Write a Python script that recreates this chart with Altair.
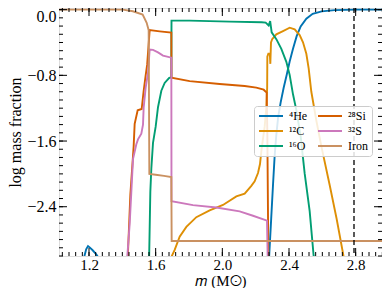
import altair as alt
import pandas as pd

# ---- data ----
he1_m = [1.168, 1.183, 1.194, 1.204, 1.222, 1.240, 1.255]
he1_v = [-3.037, -2.918, -2.879, -2.895, -2.93, -2.97, -3.013]

he_m = [2.278, 2.281, 2.293, 2.304, 2.314, 2.323, 2.335, 2.350, 2.368, 2.386, 2.404, 2.424, 2.446, 2.470, 2.504, 2.542, 2.596, 2.674, 2.804, 3.0]
he_v = [-3.15, -3.0, -2.551, -2.136, -1.78, -1.544, -1.307, -1.129, -0.951, -0.797, -0.632, -0.477, -0.323, -0.205, -0.11, -0.051, -0.021, -0.006, 0.0, 0.0]

c_m = [1.695, 1.697, 1.714, 1.744, 1.784, 1.844, 1.924, 2.004, 2.084, 2.134, 2.174, 2.194, 2.214, 2.226, 2.234, 2.244, 2.254, 2.264, 2.269, 2.270, 2.276, 2.285, 2.288, 2.292, 2.299, 2.324, 2.364, 2.404, 2.434, 2.464, 2.484, 2.504, 2.518, 2.534, 2.564, 2.594, 2.644, 2.686, 2.724, 2.735]
c_v = [-3.2, -3.0, -2.926, -2.764, -2.646, -2.527, -2.444, -2.379, -2.275, -2.24, -2.145, -2.09, -1.99, -1.88, -1.725, -1.57, -1.425, -1.188, -0.951, -0.572, -0.537, -0.537, -0.66, -0.4, -0.36, -0.30, -0.261, -0.22, -0.24, -0.31, -0.398, -0.537, -0.714, -1.0, -1.35, -1.662, -2.136, -2.55, -2.966, -3.1]

o_m = [1.560, 1.561, 1.568, 1.574, 1.584, 1.600, 1.614, 1.634, 1.654, 1.680, 1.694, 1.695, 1.804, 2.044, 2.236, 2.260, 2.278, 2.287, 2.296, 2.324, 2.354, 2.384, 2.404, 2.424, 2.444, 2.470, 2.494, 2.524, 2.548, 2.56]
o_v = [-3.2, -3.0, -2.216, -1.935, -1.623, -1.425, -1.188, -0.987, -0.892, -0.833, -0.821, -0.134, -0.134, -0.146, -0.154, -0.158, -0.193, -0.14, -0.276, -0.359, -0.477, -0.635, -0.794, -1.031, -1.224, -1.544, -1.995, -2.453, -3.0, -3.15]

si_m = [1.428, 1.433, 1.448, 1.462, 1.468, 1.474, 1.492, 1.516, 1.528, 1.540, 1.549, 1.564, 1.624, 1.694, 1.695, 1.804, 1.984, 2.134, 2.204, 2.248, 2.266, 2.270, 2.276, 2.278]
si_v = [-3.2, -3.0, -2.255, -1.84, -1.66, -1.39, -1.225, -1.21, -0.99, -0.80, -0.67, -0.25, -0.265, -0.28, -0.83, -0.87, -0.905, -0.93, -0.95, -0.975, -1.01, -1.5, -3.0, -3.2]

s_m = [1.426, 1.430, 1.444, 1.456, 1.464, 1.484, 1.494, 1.514, 1.524, 1.528, 1.540, 1.554, 1.564, 1.584, 1.614, 1.644, 1.694, 1.695, 1.824, 1.964, 2.104, 2.184, 2.268, 2.272, 2.273]
s_v = [-3.2, -3.0, -2.61, -2.14, -1.82, -1.64, -1.58, -1.51, -1.40, -1.19, -0.95, -0.77, -0.486, -0.49, -0.52, -0.56, -0.585, -2.334, -2.38, -2.41, -2.456, -2.51, -2.57, -3.0, -3.2]

fe_m = [1.02, 1.403, 1.463, 1.522, 1.546, 1.558, 1.562, 1.600, 1.650, 1.694, 1.696, 3.0]
fe_v = [0.0, 0.0, -0.02, -0.06, -0.16, -0.25, -2.0, -2.01, -2.025, -2.04, -2.818, -2.818]

species = ["⁴He", "¹²C", "¹⁶O", "²⁸Si", "³²S", "Iron"]
colors = ["#0173b2", "#de8f05", "#029e73", "#d55e00", "#cc78bc", "#ca9161"]

x_major = [1.2, 1.6, 2.0, 2.4, 2.8]
x_minor = [round(1.04 + 0.04 * i, 2) for i in range(49)]
y_major = [-2.4, -1.6, -0.8, 0.0]
y_minor = [round(-3.0 + 0.1 * i, 1) for i in range(31)]
marker_m = [2.79]

X_DOM = [1.02, 2.958]
Y_DOM = [-3.0, 0.02]
W, H = 323, 248
FONT = "Liberation Serif"

rows = []
segs = [("⁴He", "he1", he1_m, he1_v), ("⁴He", "he2", he_m, he_v),
        ("¹²C", "c", c_m, c_v), ("¹⁶O", "o", o_m, o_v),
        ("²⁸Si", "si", si_m, si_v), ("³²S", "s", s_m, s_v),
        ("Iron", "fe", fe_m, fe_v)]
k = 0
for sp, sg, ms, vs in segs:
    for a, b in zip(ms, vs):
        rows.append({"species": sp, "seg": sg, "m": a, "v": b, "i": k})
        k += 1
df = pd.DataFrame(rows)

xs = alt.Scale(domain=X_DOM, nice=False, zero=False)
ys = alt.Scale(domain=Y_DOM, nice=False, zero=False)

lines = alt.Chart(df).mark_line(strokeWidth=1.9, clip=True).encode(
    x=alt.X("m:Q", scale=xs, title="𝑚 (M☉)",
            axis=alt.Axis(values=x_major, format=".1f", ticks=False, domain=False, grid=False,
                          labelFont=FONT, labelFontSize=15, labelColor="black", labelPadding=1,
                          titleFont=FONT, titleFontSize=15, titleFontWeight="normal",
                          titleColor="black", titleY=29, titleBaseline="alphabetic")),
    y=alt.Y("v:Q", scale=ys, title="log mass fraction",
            axis=alt.Axis(values=y_major, format=".1f", ticks=False, domain=False, grid=False,
                          labelFont=FONT, labelFontSize=16, labelColor="black", labelPadding=3,
                          labelFlush=3, labelFlushOffset=1,
                          titleFont=FONT, titleFontSize=16, titleFontWeight="normal",
                          titleColor="black", titlePadding=3)),
    color=alt.Color("species:N",
                    scale=alt.Scale(domain=species, range=colors),
                    legend=alt.Legend(title=None, orient="none", legendX=195, legendY=98,
                                      columns=2, symbolType="M-2.4,0L2.4,0", symbolSize=100,
                                      symbolOffset=7, symbolStrokeWidth=2,
                                      labelFont=FONT, labelFontSize=12,
                                      labelColor="black", labelOffset=12, columnPadding=6,
                                      rowPadding=3, padding=4,
                                      fillColor="rgba(255,255,255,0.85)", strokeColor="#cccccc",
                                      cornerRadius=3)),
    detail="seg:N",
    order="i:Q",
)

vline = alt.Chart(pd.DataFrame({"m": marker_m})).mark_rule(
    color="black", strokeDash=[5, 3], strokeWidth=1.3).encode(
    x=alt.X("m:Q", scale=xs))


def xt(vals, y0, y1):
    return alt.Chart(pd.DataFrame({"m": vals})).mark_rule(color="black", strokeWidth=1).encode(
        x=alt.X("m:Q", scale=xs), y=alt.value(y0), y2=alt.value(y1))


def yt(vals, x0, x1):
    return alt.Chart(pd.DataFrame({"v": vals})).mark_rule(color="black", strokeWidth=1).encode(
        y=alt.Y("v:Q", scale=ys), x=alt.value(x0), x2=alt.value(x1))


ticks = [
    xt(x_major, H, H - 8), xt(x_minor, H, H - 4),
    xt(x_major, 0, 8), xt(x_minor, 0, 4),
    yt(y_major, 0, 8), yt(y_minor, 0, 4),
    yt(y_major, W, W - 8), yt(y_minor, W, W - 4),
]

chart = alt.layer(lines, vline, *ticks).properties(
    width=W, height=H,
    autosize=alt.AutoSizeParams(type="none"),
    padding={"left": 51, "top": 0, "right": 0, "bottom": 32},
).configure_view(stroke="black", strokeWidth=1.3).configure(background="white")

chart.save("out.html", embed_options={"renderer": "svg", "actions": False})
